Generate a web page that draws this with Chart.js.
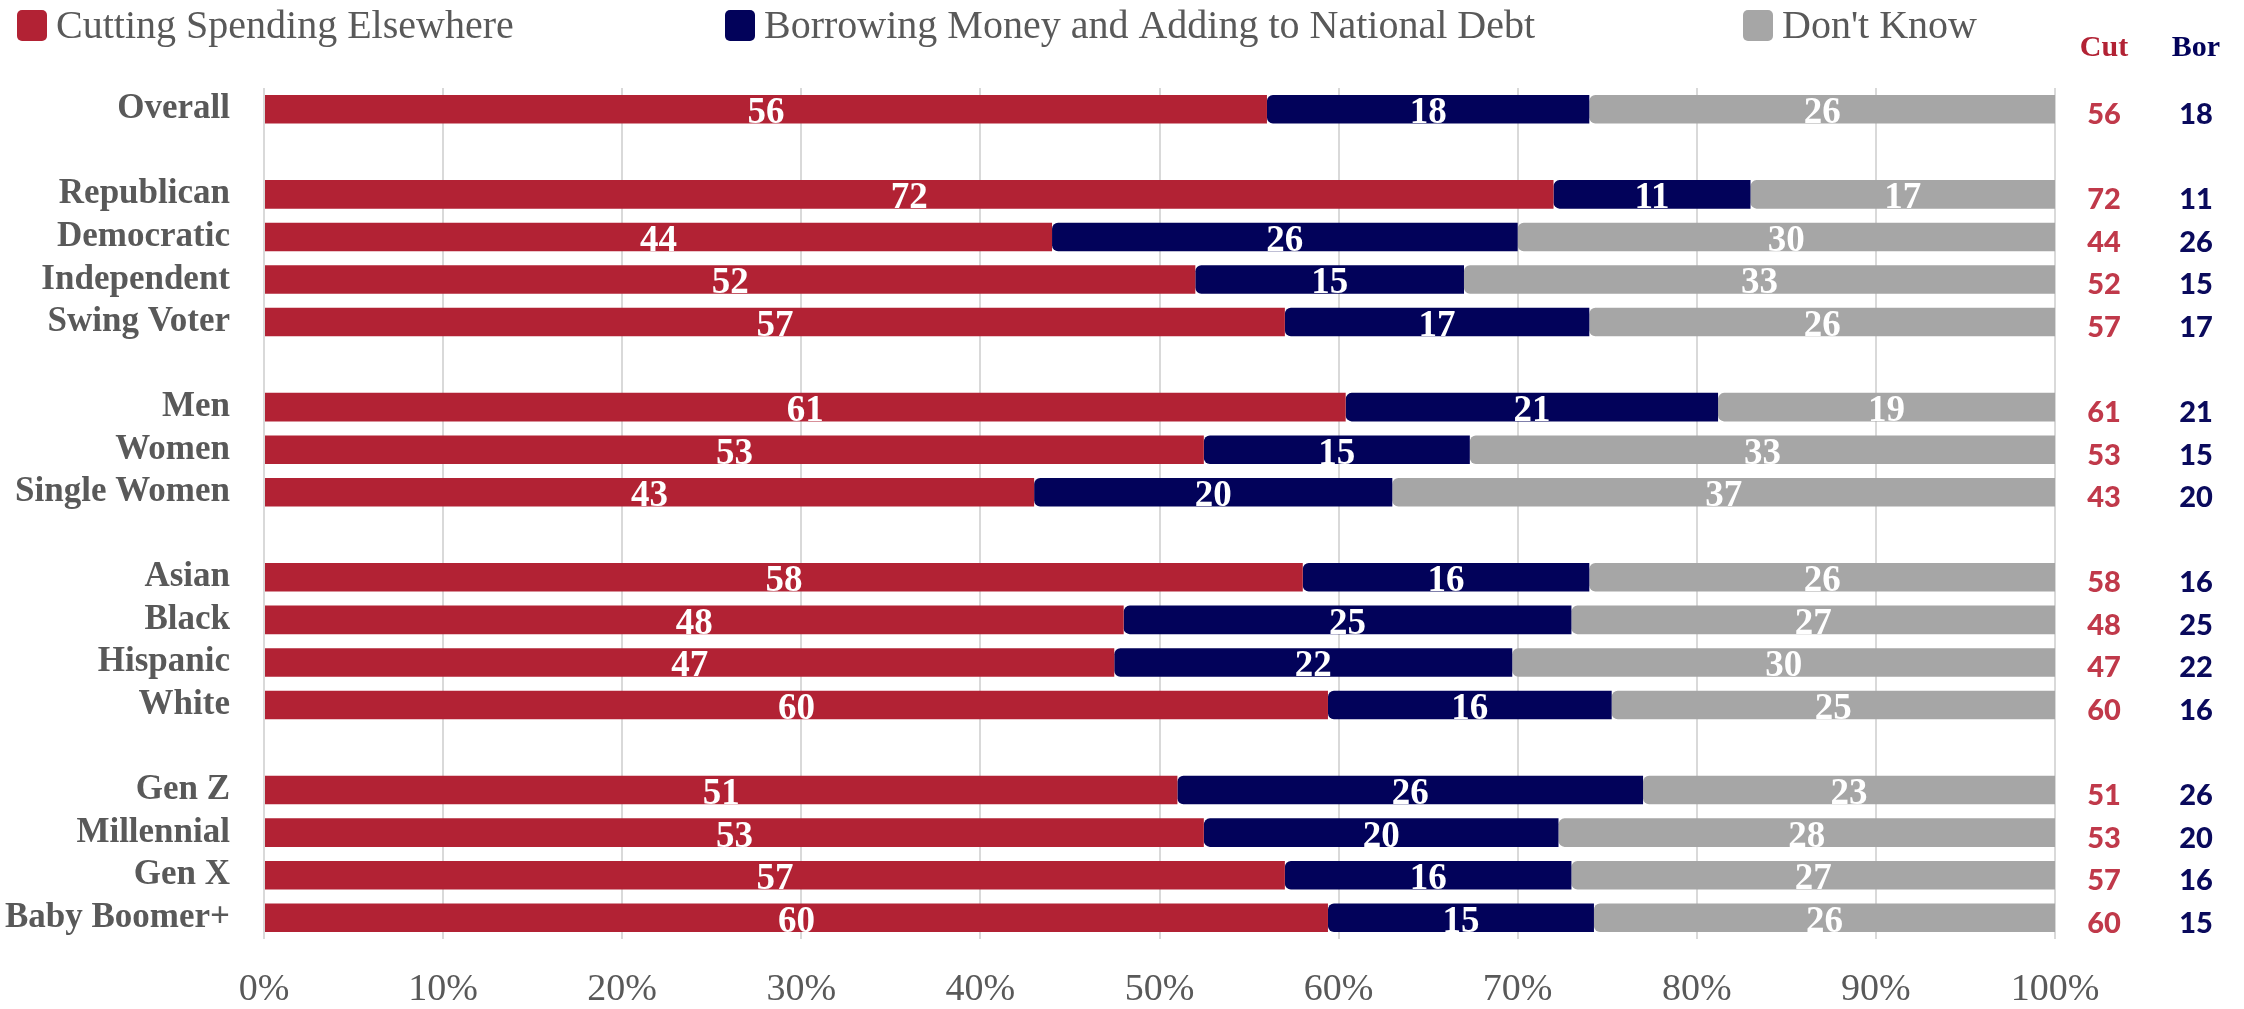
<!DOCTYPE html>
<html>
<head>
<meta charset="utf-8">
<script src="https://cdn.jsdelivr.net/npm/chart.js@4.4.1/dist/chart.umd.min.js"></script>
<style>
  body { margin: 0; background: #fff; }
  #wrap { width: 2244px; height: 1009px; }
</style>
</head>
<body>
<div id="wrap"><canvas id="grafico" width="2244" height="1009"></canvas></div>
<script>
// categorias (las vacias son separadores entre grupos)
const categorias = ['Overall', '', 'Republican', 'Democratic', 'Independent', 'Swing Voter', '',
    'Men', 'Women', 'Single Women', '', 'Asian', 'Black', 'Hispanic', 'White', '',
    'Gen Z', 'Millennial', 'Gen X', 'Baby Boomer+'];
const recortar = [56, null, 72, 44, 52, 57, null, 61, 53, 43, null, 58, 48, 47, 60, null, 51, 53, 57, 60];
const pedirPrestado = [18, null, 11, 26, 15, 17, null, 21, 15, 20, null, 16, 25, 22, 16, null, 26, 20, 16, 15];
const noSabe = [26, null, 17, 30, 33, 26, null, 19, 33, 37, null, 26, 27, 30, 25, null, 23, 28, 27, 26];
const ticksX = ['0%', '10%', '20%', '30%', '40%', '50%', '60%', '70%', '80%', '90%', '100%'];
const series = ['Cutting Spending Elsewhere', 'Borrowing Money and Adding to National Debt', "Don't Know"];
const columnas = ['Cut', 'Bor'];

const rojo = '#B22234';
const azul = '#02025A';
const gris = '#A6A6A6';
const textoGris = '#595959';

// cada fila se lleva a 100 para que las barras llenen el eje
function porcentaje(arr) {
    return arr.map((v, i) => {
        if (v === null) return null;
        const total = recortar[i] + pedirPrestado[i] + noSabe[i];
        return v / total * 100;
    });
}
const originales = [recortar, pedirPrestado, noSabe];

const leyenda = {
    id: 'leyenda',
    afterDraw(chart) {
        const ctx = chart.ctx;
        const xs = [17, 725, 1743];
        chart.data.datasets.forEach((ds, i) => {
            ctx.save();
            ctx.fillStyle = ds.backgroundColor;
            ctx.beginPath();
            ctx.roundRect(xs[i], 10, 30, 31, 5);
            ctx.fill();
            ctx.fillStyle = textoGris;
            ctx.font = '40px "Liberation Serif"';
            ctx.textBaseline = 'alphabetic';
            ctx.fillText(ds.label, xs[i] + 39, 38);
            ctx.restore();
        });
    }
};

const etiquetas = {
    id: 'etiquetas',
    afterDatasetsDraw(chart) {
        const ctx = chart.ctx;
        ctx.save();
        ctx.font = 'bold 37px "Liberation Serif"';
        ctx.fillStyle = '#fff';
        ctx.textAlign = 'center';
        ctx.textBaseline = 'alphabetic';
        chart.data.datasets.forEach((ds, d) => {
            const meta = chart.getDatasetMeta(d);
            meta.data.forEach((el, i) => {
                const v = originales[d][i];
                if (v === null) return;
                const x = (el.x + el.base) / 2;
                ctx.fillText(String(v), x, el.y + 14);
            });
        });
        ctx.restore();

        // columnas de la derecha
        const y = chart.scales.y;
        const xcol = [2104, 2196];
        const colores = ['#C0394A', '#0A0A5C'];
        const vals = [recortar, pedirPrestado];
        ctx.save();
        ctx.textAlign = 'center';
        ctx.textBaseline = 'alphabetic';
        columnas.forEach((c, k) => {
            ctx.fillStyle = k === 0 ? rojo : azul;
            ctx.font = 'bold 30px "Liberation Serif"';
            ctx.fillText(c, xcol[k], 56);
            ctx.fillStyle = colores[k];
            ctx.font = '900 29px "Lato"';
            vals[k].forEach((v, i) => {
                if (v === null) return;
                ctx.fillText(String(v), xcol[k], y.getPixelForValue(i) + 15);
            });
        });
        ctx.restore();
    }
};

const ctx = document.getElementById('grafico').getContext('2d');
const grafico = new Chart(ctx, {
    type: 'bar',
    data: {
        labels: categorias,
        datasets: [
            { label: series[0], data: porcentaje(recortar), backgroundColor: rojo,
              borderSkipped: false, borderRadius: 0 },
            { label: series[1], data: porcentaje(pedirPrestado), backgroundColor: azul,
              borderSkipped: false, borderRadius: { topLeft: 6, bottomLeft: 6 } },
            { label: series[2], data: porcentaje(noSabe), backgroundColor: gris,
              borderSkipped: false, borderRadius: { topLeft: 6, bottomLeft: 6 } }
        ]
    },
    options: {
        indexAxis: 'y',
        responsive: false,
        animation: false,
        devicePixelRatio: 1,
        barPercentage: 0.67,
        categoryPercentage: 1,
        layout: { padding: { top: 88, right: 189, left: 0, bottom: 0 } },
        plugins: {
            legend: { display: false },
            tooltip: { enabled: false }
        },
        scales: {
            x: {
                stacked: true,
                min: 0,
                max: 100,
                grid: { color: '#D9D9D9', lineWidth: 2, drawTicks: false },
                border: { display: false },
                ticks: {
                    stepSize: 10,
                    padding: 28,
                    color: textoGris,
                    font: { family: 'Liberation Serif', size: 38 },
                    callback: (v, i) => ticksX[i]
                },
                afterFit: (s) => { s.height = 70; }
            },
            y: {
                stacked: true,
                grid: { display: false, drawTicks: false },
                border: { display: false },
                ticks: {
                    autoSkip: false,
                    padding: 34,
                    color: textoGris,
                    font: { family: 'Liberation Serif', size: 35, weight: 'bold' }
                },
                afterFit: (s) => { s.width = 264; }
            }
        }
    },
    plugins: [leyenda, etiquetas]
});
</script>
</body>
</html>
